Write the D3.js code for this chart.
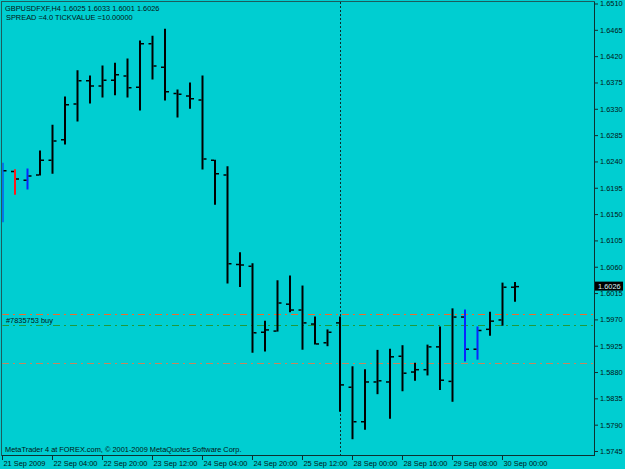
<!DOCTYPE html>
<html><head><meta charset="utf-8">
<script src="https://cdn.jsdelivr.net/npm/d3@7"></script>
<style>
html,body{margin:0;padding:0;background:#00CED1;}
svg{display:block;}
text{font-family:"Liberation Sans",Arial,sans-serif;}
</style></head>
<body>
<svg id="chart" width="625" height="469"></svg>
<script>
// ---- data (GBPUSDFXF, H4) ----
const barTimes = ["21 Sep 12:00","21 Sep 16:00","21 Sep 20:00","22 Sep 00:00","22 Sep 04:00","22 Sep 08:00","22 Sep 12:00","22 Sep 16:00",
 "22 Sep 20:00","23 Sep 00:00","23 Sep 04:00","23 Sep 08:00","23 Sep 12:00","23 Sep 16:00","23 Sep 20:00","24 Sep 00:00",
 "24 Sep 04:00","24 Sep 08:00","24 Sep 12:00","24 Sep 16:00","24 Sep 20:00","25 Sep 00:00","25 Sep 04:00","25 Sep 08:00",
 "25 Sep 12:00","25 Sep 16:00","25 Sep 20:00","27 Sep 20:00","28 Sep 00:00","28 Sep 04:00","28 Sep 08:00","28 Sep 12:00",
 "28 Sep 16:00","28 Sep 20:00","29 Sep 00:00","29 Sep 04:00","29 Sep 08:00","29 Sep 12:00","29 Sep 16:00","29 Sep 20:00",
 "30 Sep 00:00","30 Sep 04:00"];
const opens  = [1.6160,1.6223,1.6208,1.6217,1.6242,1.6277,1.6338,1.6378,1.6369,1.6379,1.6386,1.6367,1.6441,1.6401,1.6356,1.6352,
 1.6345,1.6242,1.6217,1.6064,1.6061,1.5948,1.5950,1.5996,1.5986,1.5962,1.5930,1.5964,1.5854,1.5795,1.5863,1.5863,
 1.5907,1.5880,1.5884,1.5923,1.5864,1.5974,1.5919,1.5953,1.5969,1.6025];
const highs  = [1.6237,1.6226,1.6227,1.6258,1.6302,1.6350,1.6395,1.6386,1.6403,1.6408,1.6415,1.6446,1.6454,1.6466,1.6362,1.6374,
 1.6386,1.6242,1.6231,1.6084,1.6065,1.5967,1.6036,1.6044,1.6027,1.5974,1.5952,1.5974,1.5889,1.5884,1.5917,1.5919,
 1.5925,1.5895,1.5926,1.5957,1.5988,1.5986,1.5957,1.5982,1.6032,1.6033];
const lows   = [1.6137,1.6184,1.6193,1.6217,1.6220,1.6270,1.6309,1.6340,1.6350,1.6354,1.6350,1.6328,1.6381,1.6345,1.6316,1.6331,
 1.6227,1.6167,1.6032,1.6026,1.5914,1.5916,1.5950,1.5983,1.5919,1.5928,1.5925,1.5813,1.5766,1.5782,1.5843,1.5801,
 1.5848,1.5866,1.5875,1.5850,1.5830,1.5899,1.5902,1.5943,1.5960,1.6001];
const closes = [1.6224,1.6210,1.6215,1.6242,1.6275,1.6337,1.6378,1.6369,1.6379,1.6388,1.6366,1.6441,1.6403,1.6359,1.6355,1.6347,
 1.6244,1.6219,1.6065,1.6063,1.5947,1.5952,1.5998,1.5986,1.5964,1.5928,1.5948,1.5858,1.5795,1.5863,1.5865,1.5906,
 1.5878,1.5884,1.5923,1.5866,1.5974,1.5919,1.5951,1.5967,1.6025,1.6026];
// indicator signal per bar: 1 = buy mark, -1 = sell mark, 0 = none
const signals = [1,-1,1,0,0,0,0,0,0,0,0,0,0,0,0,0,0,0,0,0,0,0,0,0,0,0,0,0,0,0,0,0,0,0,0,0,0,1,1,0,0,0];
const xTickBars   = [0,4,8,12,16,20,24,28,32,36,40];
const xTickLabels = ["21 Sep 2009","22 Sep 04:00","22 Sep 20:00","23 Sep 12:00","24 Sep 04:00","24 Sep 20:00",
 "25 Sep 12:00","28 Sep 00:00","28 Sep 16:00","29 Sep 08:00","30 Sep 00:00"];
const yTickValues = [1.6510,1.6465,1.6420,1.6375,1.6330,1.6285,1.6240,1.6195,1.6150,1.6105,1.6060,1.6015,1.5970,1.5925,1.5880,1.5835,1.5790,1.5745];
const levelPrices = [1.5979,1.5960,1.5895];
const levelTypes  = ["tp","order","sl"];
const orderLabel  = "#7835753 buy";
const separatorBar = 27;
const symbolInfo = "GBPUSDFXF,H4  1.6025 1.6033 1.6001 1.6026";
const spreadInfo = "SPREAD =4.0 TICKVALUE =10.00000";
const copyright = "MetaTrader 4 at FOREX.com, \u00A9 2001-2009 MetaQuotes Software Corp.";

// ---- layout ----
const L = 2, R = 594, T = 2, B = 455;
const FS = 7.4, TXT = "#031414";
const svg = d3.select("#chart");
const bars = barTimes.map((t,i)=>({i,t,o:opens[i],h:highs[i],l:lows[i],c:closes[i],s:signals[i]}));

const x = d3.scaleLinear().domain([0, bars.length-1]).range([2.5, 2.5 + 12.5*(bars.length-1)]);
const y = d3.scaleLinear().domain([1.5745, 1.6510]).range([451, 3.5]);

svg.append("rect").attr("width",625).attr("height",469).attr("fill","#00CED1");

svg.append("defs").append("clipPath").attr("id","plot")
  .append("rect").attr("x",L+0.5).attr("y",T).attr("width",R-L-0.5).attr("height",B-T);

const plot = svg.append("g").attr("clip-path","url(#plot)");

// separator
plot.append("line").attr("x1",Math.round(x(separatorBar))+0.5).attr("x2",Math.round(x(separatorBar))+0.5)
  .attr("y1",T).attr("y2",B).attr("stroke","#0a2a2a").attr("stroke-width",1).attr("stroke-dasharray","2,2");

// levels
const levelColor = {tp:"#f06a2c", order:"#1f9a3c", sl:"#c4865e"};
plot.selectAll("line.level").data(levelPrices).join("line").attr("class","level")
  .attr("x1",L).attr("x2",R).attr("y1",d=>Math.round(y(d))+0.5).attr("y2",d=>Math.round(y(d))+0.5)
  .attr("stroke",(d,i)=>levelColor[levelTypes[i]]).attr("stroke-width",1.2)
  .attr("stroke-dasharray","7,4,2,4");

plot.append("text").attr("x",6).attr("y",Math.round(y(levelPrices[1]))-2)
  .attr("font-size",FS).attr("fill",TXT).text(orderLabel);

// bars
const colorOf = s => s>0 ? "#0a24ff" : s<0 ? "#ff1a1a" : "#000";
const g = plot.selectAll("g.bar").data(bars).join("g").attr("class","bar");
g.append("line").attr("x1",d=>x(d.i)).attr("x2",d=>x(d.i))
  .attr("y1",d=>y(d.h)-0.5).attr("y2",d=>y(d.l)+0.5)
  .attr("stroke",d=>colorOf(d.s)).attr("stroke-width",2);
g.append("line").attr("x1",d=>x(d.i)-4).attr("x2",d=>x(d.i)-1)
  .attr("y1",d=>y(d.o)).attr("y2",d=>y(d.o))
  .attr("stroke","#000").attr("stroke-width",1.5);
g.append("line").attr("x1",d=>x(d.i)+1).attr("x2",d=>x(d.i)+4)
  .attr("y1",d=>y(d.c)).attr("y2",d=>y(d.c))
  .attr("stroke","#000").attr("stroke-width",1.5);

// frame
svg.append("rect").attr("x",L-0.5).attr("y",T-0.5).attr("width",R-L+1).attr("height",B-T+1)
  .attr("fill","none").attr("stroke","#1d5d5d").attr("stroke-width",1);
svg.append("line").attr("x1",R+0.5).attr("x2",R+0.5).attr("y1",T).attr("y2",B+1).attr("stroke","#0d3030");
svg.append("line").attr("x1",L).attr("x2",R+1).attr("y1",B+0.5).attr("y2",B+0.5).attr("stroke","#0d3030");

// right axis
const yAxis = d3.axisRight(y).tickValues(yTickValues).tickFormat(d3.format(".4f")).tickSize(3).tickPadding(2);
const ga = svg.append("g").attr("transform",`translate(${R+1},0)`).call(yAxis);
ga.select(".domain").remove();
ga.selectAll(".tick line").attr("stroke","#0d3030");
ga.selectAll(".tick text").attr("font-size",FS).attr("fill",TXT).attr("font-family","Liberation Sans, Arial, sans-serif");

// current price label
const cy = y(closes[closes.length-1]);
svg.append("rect").attr("x",R+1).attr("y",cy-5).attr("width",28).attr("height",9).attr("fill","#000");
svg.append("text").attr("x",R+4).attr("y",cy+2.5).attr("font-size",FS).attr("fill","#d8f4f4")
  .text(d3.format(".4f")(closes[closes.length-1]));

// bottom axis
const xAxis = d3.axisBottom(x).tickValues(xTickBars).tickFormat((d,i)=>xTickLabels[i]).tickSize(4).tickPadding(1);
const gx = svg.append("g").attr("transform",`translate(0,${B+1})`).call(xAxis);
gx.select(".domain").remove();
gx.selectAll(".tick line").attr("stroke","#0d3030").attr("transform","translate(-0.5,0)");
gx.selectAll(".tick text").attr("text-anchor","start").attr("dx",0.5).attr("font-size",FS).attr("fill",TXT)
  .attr("font-family","Liberation Sans, Arial, sans-serif");

// header texts
svg.append("text").attr("x",5).attr("y",10.5).attr("font-size",FS).attr("fill",TXT).text(symbolInfo);
svg.append("text").attr("x",6).attr("y",19.5).attr("font-size",FS).attr("fill",TXT).text(spreadInfo);
svg.append("text").attr("x",5).attr("y",452).attr("font-size",FS).attr("fill",TXT).text(copyright);
</script>
</body></html>
